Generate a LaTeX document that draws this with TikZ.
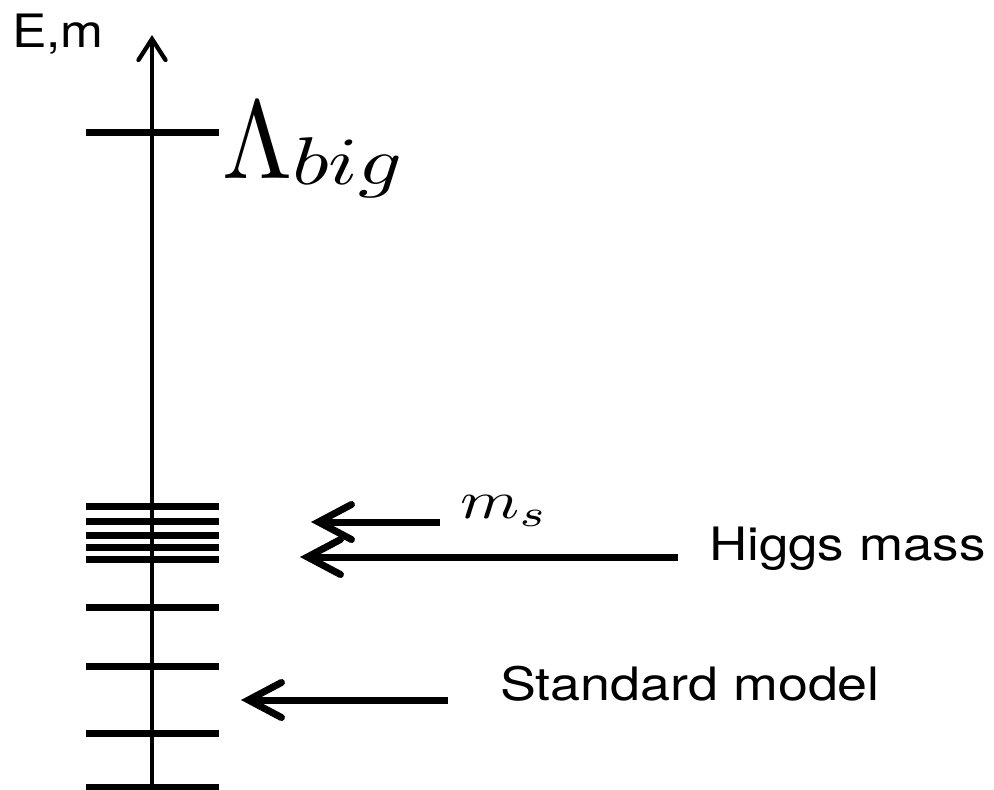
\documentclass[tikz,border=0pt]{standalone}
\usepackage{fontspec}
\usepackage{tikz}
\usetikzlibrary{arrows.meta}
\newfontfamily\helv{TeX Gyre Heros}
\definecolor{ink}{HTML}{000000}
\tikzset{
  axisline/.style={line width=4.3pt,color=ink,-{Straight Barb[length=21pt,width=27pt,line cap=round,line join=miter]}},
  level/.style={line width=7pt,color=ink},
  pointer/.style={line width=7pt,color=ink,-{Straight Barb[length=33pt,width=35pt,line cap=round,line join=miter]}},
  sanslabel/.style={font=\helv\fontsize{46}{52}\selectfont,inner sep=0pt,anchor=base west},
  mathlabel/.style={inner sep=0pt,anchor=base west},
}
\newcommand{\wide}[2]{\scalebox{#1}[1]{#2}}

\begin{document}
\begin{tikzpicture}[x=1pt,y=-1pt]
  \useasboundingbox (0,0) rectangle (994,790);
  \coordinate (base) at (152,792);
  \coordinate (top) at (152,35);
  \draw[axisline] (base) -- (top);
  \foreach \y in {132,506,521,535,547,559,607,666,733,787}
    \draw[level] (86,\y) -- (219,\y);

  \node[sanslabel] (axislabel) at (12,47) {\wide{1.12}{E,m}};
  \node[mathlabel] (cutoff) at (222,178)
    {\resizebox{70pt}{76pt}{$\Lambda$}\raisebox{-6pt}{\resizebox*{110pt}{60pt}{$big$}}};
  \node[mathlabel] (mslabel) at (460,518) {\resizebox{88pt}{23pt}{$m_s$}};
  \node[sanslabel] (higgs) at (709,560) {\wide{1.15}{Higgs mass}};
  \node[sanslabel] (smodel) at (500,700) {\wide{1.17}{Standard model}};

  \coordinate (msfrom) at (440,522);
  \coordinate (msto) at (311,522);
  \coordinate (higgsfrom) at (678,557);
  \coordinate (higgsto) at (300,557);
  \coordinate (smfrom) at (448,700);
  \coordinate (smto) at (241,700);
  \draw[pointer] (msfrom) -- (msto);
  \draw[pointer] (higgsfrom) -- (higgsto);
  \draw[pointer] (smfrom) -- (smto);
\end{tikzpicture}
\end{document}
